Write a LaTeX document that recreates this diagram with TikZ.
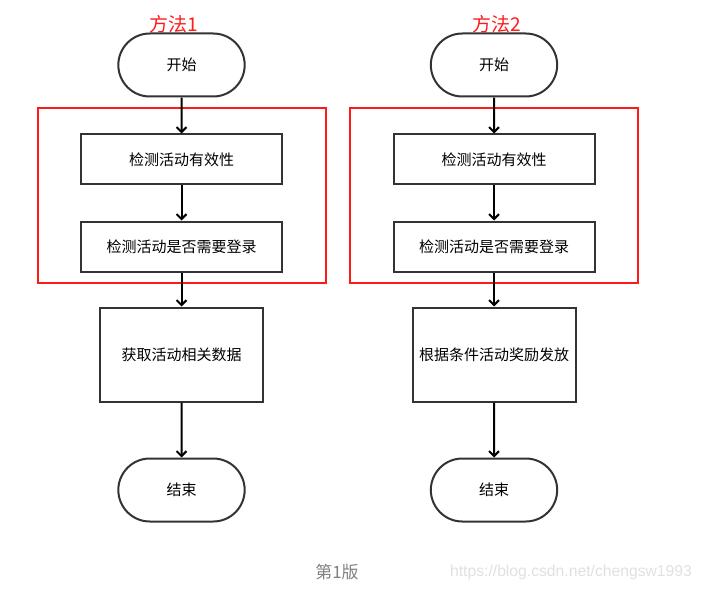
\documentclass[tikz,border=0pt]{standalone}
\usepackage{fontspec}
\newfontfamily\cjk{Noto Sans CJK SC}
\newfontfamily\urlfont{Liberation Sans}
\usetikzlibrary{positioning,shapes.misc,arrows.meta}

\definecolor{boxgray}{HTML}{333333}
\definecolor{framered}{HTML}{FF1A1A}

\tikzset{
	term/.style={rounded rectangle, draw=boxgray, line width=2pt, minimum width=133pt, minimum height=63pt, font=\cjk\fontsize{15}{17}\selectfont},
	stepbox/.style={rectangle, draw=boxgray, line width=2pt, minimum width=201pt, minimum height=50pt, font=\cjk\fontsize{15}{17}\selectfont},
	bigbox/.style={rectangle, draw=boxgray, line width=2pt, minimum width=163pt, minimum height=94pt, font=\cjk\fontsize{15}{17}\selectfont},
	redframe/.style={-, draw=framered, line width=1.8pt},
	title/.style={text=framered, font=\cjk\fontsize{19}{21}\selectfont}
}

\begin{document}
\begin{tikzpicture}[->,>={Straight Barb[length=5pt,width=10pt]},line width=2pt,node distance=36pt,x=1pt,y=1pt]
	\useasboundingbox (0,0) rectangle (703,590);

	% method 1
	\node(start1) [term] at (181.5,525) {开始};
	\node(valid1) [stepbox, below=36pt of start1] {检测活动有效性};
	\node(login1) [stepbox, below=35pt of valid1] {检测活动是否需要登录};
	\node(data1)  [bigbox, below=34pt of login1] {获取活动相关数据};
	\node(end1)   [term, below=55pt of data1] {结束};
	\node(title1) [title] at (174,566) {方法1};

	% method 2
	\node(start2) [term] at (494,525) {开始};
	\node(valid2) [stepbox, below=36pt of start2] {检测活动有效性};
	\node(login2) [stepbox, below=35pt of valid2] {检测活动是否需要登录};
	\node(award2) [bigbox, below=34pt of login2] {根据条件活动奖励发放};
	\node(end2)   [term, below=55pt of award2] {结束};
	\node(title2) [title] at (497,566) {方法2};

	\draw[redframe] (38,482) rectangle (326,307);
	\draw[redframe] (350,482) rectangle (638,307);

	\draw[->] (start1) -- (valid1);
	\draw[->] (valid1) -- (login1);
	\draw[->] (login1) -- (data1);
	\draw[->] (data1) -- (end1);

	\draw[->] (start2) -- (valid2);
	\draw[->] (valid2) -- (login2);
	\draw[->] (login2) -- (award2);
	\draw[->] (award2) -- (end2);

	\node(version) [text=black!50, font=\cjk\fontsize{17}{19}\selectfont] at (337,18) {第1版};
	\node(mark) [text=black!12, font=\urlfont\fontsize{15.7}{18}\selectfont] at (571,18) {https://blog.csdn.net/chengsw1993};

\end{tikzpicture}
\end{document}
